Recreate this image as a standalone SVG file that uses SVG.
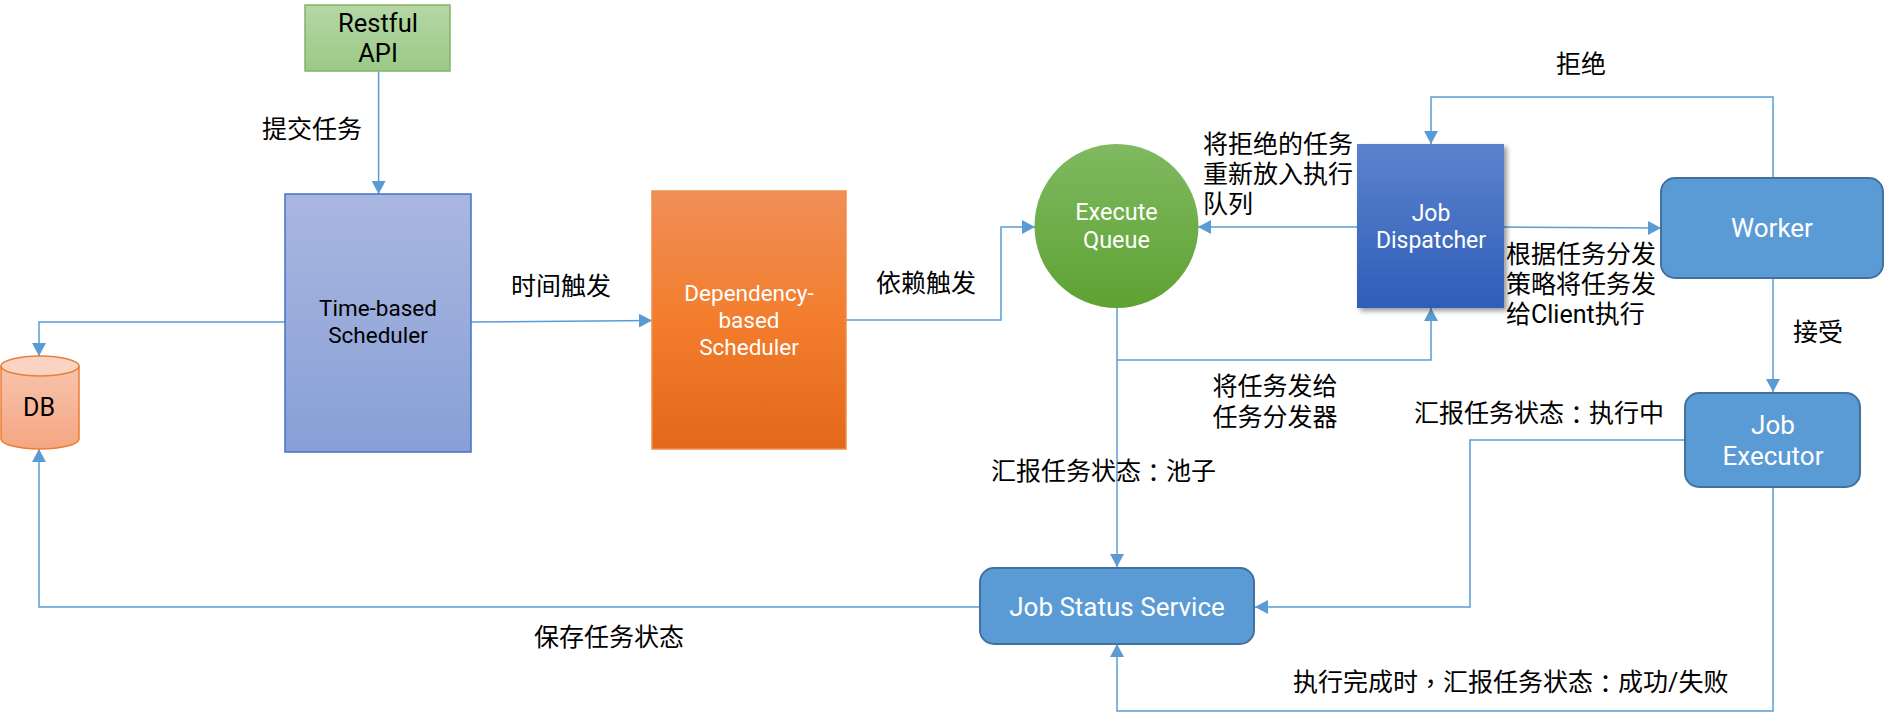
<svg xmlns="http://www.w3.org/2000/svg" width="1885" height="713" viewBox="0 0 1885 713">
<style>
text{font-family:Roboto,"Noto Sans CJK SC",sans-serif;dominant-baseline:central}
.lbl{font-size:25px;fill:#000}
.nt{text-anchor:middle;font-size:22.5px}
.big{font-size:26px}
.w{fill:#fff}
.k{fill:#000}
.p{font-family:"Noto Sans CJK TC","Noto Sans CJK SC",sans-serif}
.con{fill:none;stroke:#5B9BD5;stroke-width:1.5}
.blue{fill:#5B9BD5;stroke:#41719C;stroke-width:2}
</style>
<defs>
<marker id="ah" markerUnits="userSpaceOnUse" markerWidth="14" markerHeight="14" viewBox="0 0 14 14" refX="13" refY="7" orient="auto">
<path d="M0,0 L13,7 L0,14 Z" fill="#5B9BD5"/>
</marker>
<linearGradient id="gGreen" x1="0" y1="0" x2="0" y2="1"><stop offset="0" stop-color="#B5D7A6"/><stop offset="1" stop-color="#9BC985"/></linearGradient>
<linearGradient id="gPurple" x1="0" y1="0" x2="0" y2="1"><stop offset="0" stop-color="#A9B7E0"/><stop offset="1" stop-color="#889FD6"/></linearGradient>
<linearGradient id="gOrange" x1="0" y1="0" x2="0" y2="1"><stop offset="0" stop-color="#F08F58"/><stop offset="0.5" stop-color="#F37D2D"/><stop offset="1" stop-color="#E3681A"/></linearGradient>
<linearGradient id="gCircle" x1="0" y1="0" x2="0" y2="1"><stop offset="0" stop-color="#80B961"/><stop offset="1" stop-color="#5EA232"/></linearGradient>
<linearGradient id="gDisp" x1="0" y1="0" x2="0" y2="1"><stop offset="0" stop-color="#5C82CD"/><stop offset="1" stop-color="#2E5EB9"/></linearGradient>
<linearGradient id="gDB" x1="0" y1="0" x2="0" y2="1"><stop offset="0" stop-color="#F7C4AC"/><stop offset="1" stop-color="#F5A683"/></linearGradient>
<filter id="shadow" x="-10%" y="-10%" width="130%" height="130%"><feDropShadow dx="3" dy="3" stdDeviation="2.5" flood-color="#000" flood-opacity="0.4"/></filter>
</defs>

<g id="connectors">
<path class="con" d="M378.6,71 V194" marker-end="url(#ah)"/>
<path class="con" d="M471,322 L652,320.5" marker-end="url(#ah)"/>
<path class="con" d="M285,322 H39 V356" marker-end="url(#ah)"/>
<path class="con" d="M846,320 H1001 V227 H1035" marker-end="url(#ah)"/>
<path class="con" d="M1357,227 H1198" marker-end="url(#ah)"/>
<path class="con" d="M1117,360 H1431 V308" marker-end="url(#ah)"/>
<path class="con" d="M1504,227 L1661,228" marker-end="url(#ah)"/>
<path class="con" d="M1773,178 V97 H1431 V144" marker-end="url(#ah)"/>
<path class="con" d="M1773,278 V392" marker-end="url(#ah)"/>
<path class="con" d="M1117,307 V567" marker-end="url(#ah)"/>
<path class="con" d="M1685,440 H1470 V607 H1255" marker-end="url(#ah)"/>
<path class="con" d="M1773,487 V711 H1117 V644" marker-end="url(#ah)"/>
<path class="con" d="M980,607 H39 V449" marker-end="url(#ah)"/>
</g>

<g id="restful-api">
<rect x="305" y="5" width="145" height="66" fill="url(#gGreen)" stroke="#82B366" stroke-width="1.5"/>
<text class="nt k" style="font-size:25.5px"><tspan x="378" y="23">Restful</tspan><tspan x="378" y="53">API</tspan></text>
</g>

<g id="time-scheduler">
<rect x="285" y="194" width="186" height="258" fill="url(#gPurple)" stroke="#4472C4" stroke-width="1.5"/>
<text class="nt k"><tspan x="378" y="308">Time-based</tspan><tspan x="378" y="335">Scheduler</tspan></text>
</g>

<g id="db">
<path d="M1,366 V439 A39,10 0 0 0 79,439 V366" fill="url(#gDB)" stroke="#ED7D31" stroke-width="1.5"/>
<ellipse cx="40" cy="366" rx="39" ry="10" fill="#F9D4C4" stroke="#ED7D31" stroke-width="1.5"/>
<text class="nt k" x="39" y="407" style="font-size:25px">DB</text>
</g>

<g id="dependency-scheduler">
<rect x="652" y="191" width="194" height="258" fill="url(#gOrange)" stroke="#F08D4C" stroke-width="1.5"/>
<text class="nt w"><tspan x="749" y="293">Dependency-</tspan><tspan x="749" y="320">based</tspan><tspan x="749" y="347">Scheduler</tspan></text>
</g>

<g id="execute-queue">
<circle cx="1116.5" cy="226" r="82" fill="url(#gCircle)"/>
<text class="nt w" style="font-size:23.5px"><tspan x="1116.5" y="212">Execute</tspan><tspan x="1116.5" y="240">Queue</tspan></text>
</g>

<g id="job-dispatcher">
<rect x="1357" y="144" width="147" height="164" fill="url(#gDisp)" filter="url(#shadow)"/>
<text class="nt w" style="font-size:23px"><tspan x="1431" y="213">Job</tspan><tspan x="1431" y="240">Dispatcher</tspan></text>
</g>

<g id="worker">
<rect class="blue" x="1661" y="178" width="222" height="100" rx="14"/>
<text class="nt big w" x="1772" y="228">Worker</text>
</g>

<g id="job-executor">
<rect class="blue" x="1685" y="393" width="175" height="94" rx="14"/>
<text class="nt big w"><tspan x="1773" y="425">Job</tspan><tspan x="1773" y="456">Executor</tspan></text>
</g>

<g id="job-status-service">
<rect class="blue" x="980" y="568" width="274" height="76" rx="14"/>
<text class="nt big w" x="1117" y="607">Job Status Service</text>
</g>

<g id="labels">
<text class="lbl" x="312" y="129" text-anchor="middle">提交任务</text>
<text class="lbl" x="561" y="286" text-anchor="middle">时间触发</text>
<text class="lbl" x="926" y="283" text-anchor="middle">依赖触发</text>
<text class="lbl"><tspan x="1203" y="144">将拒绝的任务</tspan><tspan x="1203" y="174">重新放入执行</tspan><tspan x="1203" y="204">队列</tspan></text>
<text class="lbl" x="1581" y="64" text-anchor="middle">拒绝</text>
<text class="lbl"><tspan x="1506" y="254">根据任务分发</tspan><tspan x="1506" y="284">策略将任务发</tspan><tspan x="1506" y="314">给Client执行</tspan></text>
<text class="lbl" x="1818" y="332" text-anchor="middle">接受</text>
<text class="lbl" text-anchor="middle"><tspan x="1275" y="386">将任务发给</tspan><tspan x="1275" y="417">任务分发器</tspan></text>
<text class="lbl" x="1414" y="413">汇报任务状态<tspan class="p">：</tspan>执行中</text>
<text class="lbl" x="991" y="471">汇报任务状态<tspan class="p">：</tspan>池子</text>
<text class="lbl" x="534" y="637">保存任务状态</text>
<text class="lbl" x="1293" y="682">执行完成时<tspan class="p">，</tspan>汇报任务状态<tspan class="p">：</tspan>成功/失败</text>
</g>
</svg>
